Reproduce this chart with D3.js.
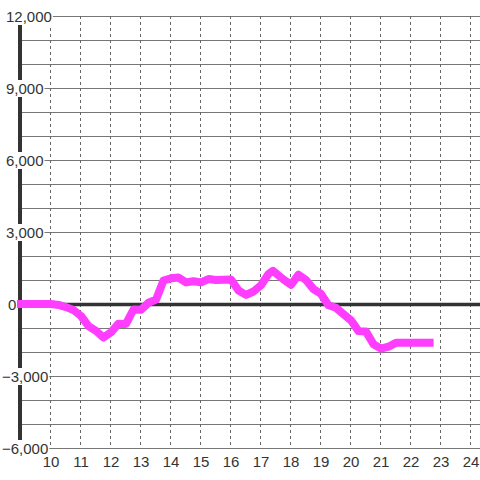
<!DOCTYPE html>
<html>
<head>
<meta charset="utf-8">
<script src="https://cdn.jsdelivr.net/npm/d3@7"></script>
<style>
  html, body { margin: 0; padding: 0; background: #fff; }
  #chart { width: 480px; height: 480px; }
  text { font-family: "Liberation Sans", Arial, sans-serif; }
</style>
</head>
<body>
<div id="chart"></div>
<script>
    // hours of the day and running value
    var hours = [9, 9.25, 9.5, 9.75, 10, 10.25, 10.5, 10.75, 11, 11.25, 11.5, 11.75,
        12, 12.25, 12.5, 12.75, 13, 13.25, 13.5, 13.75, 14, 14.25, 14.5, 14.75,
        15, 15.25, 15.5, 15.75, 16, 16.25, 16.5, 16.75, 17, 17.25, 17.4, 17.75,
        18, 18.25, 18.5, 18.75, 19, 19.25, 19.5, 19.75, 20, 20.25, 20.5, 20.75,
        21, 21.25, 21.5, 21.75, 22, 22.25, 22.62];
    var values = [0, 0, 0, 0, 0, -40, -130, -250, -500, -920, -1120, -1400,
        -1180, -820, -830, -230, -240, 50, 180, 980, 1070, 1100, 900, 950,
        900, 1040, 1000, 1010, 1020, 560, 380, 520, 780, 1250, 1380, 1020,
        800, 1220, 1000, 620, 420, -50, -160, -420, -680, -1130, -1150, -1680,
        -1860, -1780, -1610, -1610, -1610, -1610, -1610];
    var yTicks = [-6000, -3000, 0, 3000, 6000, 9000, 12000];
    var yGrid = d3.range(-6000, 12001, 1000);
    var xTicks = d3.range(10, 25, 1);

    var width = 480, height = 480;
    var svg = d3.select("#chart").append("svg")
        .attr("width", width).attr("height", height);

    var x = d3.scaleLinear().domain([9, 24.3]).range([21, 480]);
    var y = d3.scaleLinear().domain([-6000, 12000]).range([448, 16]);
    var fmt = d3.format(",");

    // horizontal grid
    svg.append("g").selectAll("line").data(yGrid)
        .enter().append("line")
        .attr("x1", x(9)).attr("x2", width)
        .attr("y1", function(d) { return y(d) + 0.5; })
        .attr("y2", function(d) { return y(d) + 0.5; })
        .attr("stroke", "#777").attr("stroke-width", 1.2);

    // vertical dashed grid
    svg.append("g").selectAll("line").data(xTicks)
        .enter().append("line")
        .attr("x1", function(d) { return Math.round(x(d)) - 0.5; })
        .attr("x2", function(d) { return Math.round(x(d)) - 0.5; })
        .attr("y1", y(12000)).attr("y2", y(-6000))
        .attr("stroke", "#666").attr("stroke-width", 1)
        .attr("stroke-dasharray", "3,3");

    // zero line
    svg.append("line")
        .attr("x1", x(9)).attr("x2", width)
        .attr("y1", y(0) + 0.5).attr("y2", y(0) + 0.5)
        .attr("stroke", "#333").attr("stroke-width", 3.5);

    // y axis bar
    svg.append("line")
        .attr("x1", 20).attr("x2", 20)
        .attr("y1", y(12000)).attr("y2", y(-6000))
        .attr("stroke", "#333").attr("stroke-width", 4);

    // y labels with white backing
    var yl = svg.append("g").selectAll("g").data(yTicks)
        .enter().append("g");
    yl.append("text")
        .attr("x", function(d) { return d < 0 ? 2 : (d === 0 ? 8 : 6); })
        .attr("y", function(d) { return y(d) + 6; })
        .attr("font-size", "15px")
        .attr("fill", "#333")
        .text(function(d) { return fmt(d); });
    yl.each(function() {
        var g = d3.select(this);
        var b = g.select("text").node().getBBox();
        g.insert("rect", "text")
            .attr("x", b.x - 1).attr("y", b.y)
            .attr("width", b.width + 2).attr("height", b.height)
            .attr("fill", "#fff");
    });

    // x labels
    svg.append("g").selectAll("text").data(xTicks)
        .enter().append("text")
        .attr("x", function(d) { return x(d); })
        .attr("y", 467)
        .attr("text-anchor", "middle")
        .attr("font-size", "15px")
        .attr("fill", "#333")
        .text(function(d) { return d; });

    // series
    var pts = hours.map(function(h, i) { return [h, values[i]]; });
    var line = d3.line()
        .x(function(d) { return x(d[0]); })
        .y(function(d) { return y(d[1]); });
    svg.append("path")
        .datum(pts)
        .attr("d", line)
        .attr("fill", "none")
        .attr("stroke", "#ff3dff")
        .attr("stroke-width", 8)
        .attr("stroke-linejoin", "round")
        .attr("stroke-linecap", "square");
</script>
</body>
</html>
